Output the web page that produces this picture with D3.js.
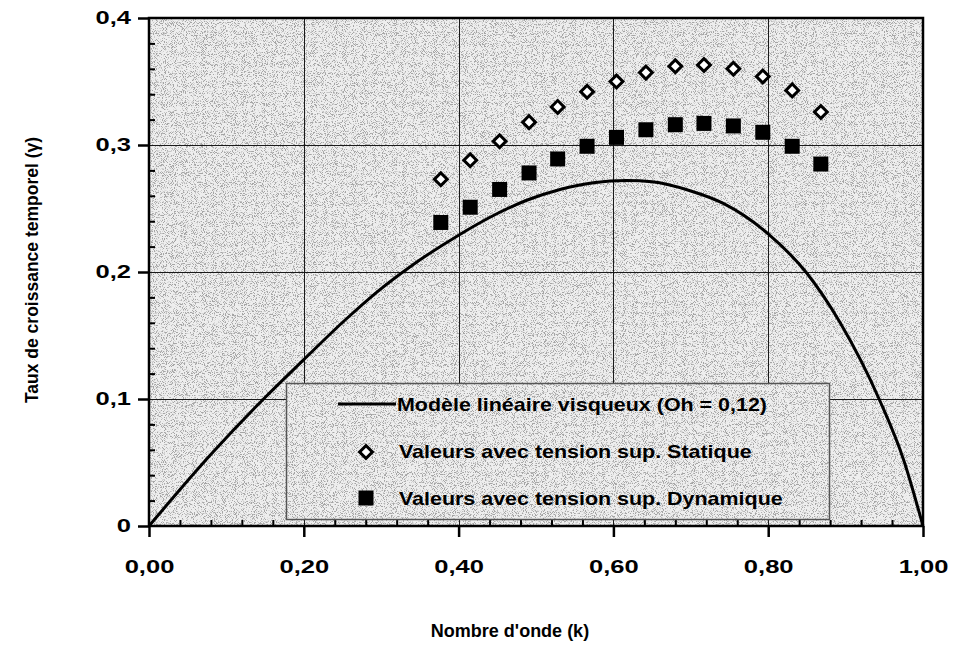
<!DOCTYPE html>
<html lang="fr">
<head>
<meta charset="utf-8">
<script src="https://cdn.jsdelivr.net/npm/d3@7"></script>
<style>
  html, body { margin: 0; padding: 0; background: #ffffff; }
  svg { display: block; font-family: "Liberation Sans", Arial, Helvetica, sans-serif; }
</style>
</head>
<body>
<svg id="chart" width="954" height="662"></svg>
<script>
// Nombre d'onde k des mesures
const waveNumbers = [0.377, 0.415, 0.453, 0.491, 0.528, 0.566, 0.604, 0.642, 0.680, 0.717, 0.755, 0.793, 0.831, 0.868];
// Taux de croissance, tension superficielle statique
const staticValues = [0.273, 0.288, 0.303, 0.318, 0.330, 0.342, 0.350, 0.357, 0.362, 0.363, 0.360, 0.354, 0.343, 0.326];
// Taux de croissance, tension superficielle dynamique
const dynamicValues = [0.239, 0.251, 0.265, 0.278, 0.289, 0.299, 0.306, 0.312, 0.316, 0.317, 0.315, 0.310, 0.299, 0.285];
// Modèle linéaire visqueux (Oh = 0,12)
const modelK     = [0, 0.081, 0.148, 0.200, 0.253, 0.296, 0.337, 0.400, 0.445, 0.488, 0.531, 0.574, 0.617, 0.650, 0.699, 0.742, 0.800, 0.850, 0.893, 0.944, 0.975, 1.0];
const modelGamma = [0, 0.057, 0.100, 0.131, 0.162, 0.185, 0.204, 0.229, 0.2445, 0.2565, 0.265, 0.2703, 0.272, 0.271, 0.264, 0.254, 0.230, 0.199, 0.160, 0.099, 0.052, 0];

const xTicks = [0, 0.2, 0.4, 0.6, 0.8, 1.0];
const xTickLabels = ["0,00", "0,20", "0,40", "0,60", "0,80", "1,00"];
const yTicks = [0, 0.1, 0.2, 0.3, 0.4];
const yTickLabels = ["0", "0,1", "0,2", "0,3", "0,4"];

const legendLabels = [
  "Modèle linéaire visqueux (Oh = 0,12)",
  "Valeurs avec tension sup. Statique",
  "Valeurs avec tension sup. Dynamique"
];

const svg = d3.select("#chart");
const plotLeft = 149, plotRight = 923, plotTop = 18, plotBottom = 526;
const tickStretch = 1.42;   // wide printer glyphs of the tick labels
const legendStretch = 1.16;

const x = d3.scaleLinear().domain([0, 1]).range([plotLeft, plotRight]);
const y = d3.scaleLinear().domain([0, 0.4]).range([plotBottom, plotTop]);

// grainy grey fill of the plotting area
const defs = svg.append("defs");
const grain = defs.append("filter").attr("id", "grain")
  .attr("x", 0).attr("y", 0).attr("width", 1).attr("height", 1);
grain.append("feTurbulence")
  .attr("type", "fractalNoise").attr("baseFrequency", 1.1)
  .attr("numOctaves", 1).attr("seed", 7).attr("result", "noise");
grain.append("feColorMatrix").attr("in", "noise").attr("type", "matrix")
  .attr("values", "0 0 0 0 0  0 0 0 0 0  0 0 0 0 0  9 0 0 0 -4.7");

function shadedBox(g, x0, y0, w, h) {
  g.append("rect").attr("x", x0).attr("y", y0).attr("width", w).attr("height", h)
    .attr("fill", "#eeeeee");
  g.append("rect").attr("x", x0).attr("y", y0).attr("width", w).attr("height", h)
    .attr("fill", "#000").attr("opacity", 0.3).attr("filter", "url(#grain)");
}

shadedBox(svg.append("g"), plotLeft, plotTop, plotRight - plotLeft, plotBottom - plotTop);

// grid
const grid = svg.append("g").attr("stroke", "#1a1a1a").attr("stroke-width", 1);
grid.selectAll("line.v").data(xTicks.slice(1, -1)).join("line")
  .attr("class", "v")
  .attr("x1", d => Math.round(x(d)) + 0.5).attr("x2", d => Math.round(x(d)) + 0.5)
  .attr("y1", plotTop).attr("y2", plotBottom);
grid.selectAll("line.h").data(yTicks.slice(1, -1)).join("line")
  .attr("class", "h")
  .attr("y1", d => Math.round(y(d)) + 0.5).attr("y2", d => Math.round(y(d)) + 0.5)
  .attr("x1", plotLeft).attr("x2", plotRight);

// frame
svg.append("rect")
  .attr("x", plotLeft).attr("y", plotTop)
  .attr("width", plotRight - plotLeft).attr("height", plotBottom - plotTop)
  .attr("fill", "none").attr("stroke", "#000").attr("stroke-width", 2.5);

// minor ticks (inside)
const xMinor = d3.range(0.04, 1.0, 0.04).filter(v => Math.abs(v / 0.2 - Math.round(v / 0.2)) > 1e-6);
const yMinor = d3.range(0.02, 0.4, 0.02).filter(v => Math.abs(v / 0.1 - Math.round(v / 0.1)) > 1e-6);

svg.append("g").attr("transform", `translate(0,${plotBottom})`)
  .call(d3.axisBottom(x).tickValues(xMinor).tickSize(-6).tickFormat(""))
  .call(g => g.select(".domain").remove())
  .call(g => g.selectAll("line").attr("stroke-width", 2));
svg.append("g").attr("transform", `translate(${plotLeft},0)`)
  .call(d3.axisLeft(y).tickValues(yMinor).tickSize(-6).tickFormat(""))
  .call(g => g.select(".domain").remove())
  .call(g => g.selectAll("line").attr("stroke-width", 2));

// major ticks and labels (outside)
svg.append("g").attr("transform", `translate(0,${plotBottom})`)
  .call(d3.axisBottom(x).tickValues(xTicks).tickSize(11).tickPadding(23)
    .tickFormat((d, i) => xTickLabels[i]))
  .call(g => g.select(".domain").remove())
  .call(g => g.selectAll("line").attr("stroke-width", 2.5))
  .call(g => g.selectAll("text").attr("font-size", 18).attr("font-weight", "bold")
    .attr("fill", "#000").attr("font-family", "Liberation Sans, Arial, sans-serif")
    .attr("transform", `scale(${tickStretch},1)`));
svg.append("g").attr("transform", `translate(${plotLeft},0)`)
  .call(d3.axisLeft(y).tickValues(yTicks).tickSize(11)
    .tickFormat((d, i) => yTickLabels[i]))
  .call(g => g.select(".domain").remove())
  .call(g => g.selectAll("line").attr("stroke-width", 2.5))
  .call(g => g.selectAll("text").attr("font-size", 18).attr("font-weight", "bold")
    .attr("fill", "#000").attr("font-family", "Liberation Sans, Arial, sans-serif")
    .attr("x", -18 / tickStretch)
    .attr("transform", `scale(${tickStretch},1)`));

// model curve
const modelPts = modelK.map((k, i) => [k, modelGamma[i]]);
svg.append("path")
  .datum(modelPts)
  .attr("fill", "none").attr("stroke", "#000").attr("stroke-width", 3)
  .attr("d", d3.line().x(d => x(d[0])).y(d => y(d[1])).curve(d3.curveMonotoneX));

// static surface tension: open diamonds
const diamond = d3.symbol().type(d3.symbolSquare).size(82)();
svg.append("g").selectAll("path").data(waveNumbers).join("path")
  .attr("d", diamond)
  .attr("transform", (k, i) => `translate(${x(k)},${y(staticValues[i])}) rotate(45)`)
  .attr("fill", "#fff").attr("stroke", "#000").attr("stroke-width", 3);

// dynamic surface tension: filled squares
const square = d3.symbol().type(d3.symbolSquare).size(225)();
svg.append("g").selectAll("path").data(waveNumbers).join("path")
  .attr("d", square)
  .attr("transform", (k, i) => `translate(${x(k)},${y(dynamicValues[i])})`)
  .attr("fill", "#000");

// legend
const lg = svg.append("g");
shadedBox(lg, 286.5, 383.5, 543, 136);
lg.append("rect")
  .attr("x", 286.5).attr("y", 383.5).attr("width", 543).attr("height", 136)
  .attr("fill", "none").attr("stroke", "#555").attr("stroke-width", 1.5);
lg.append("line")
  .attr("x1", 338).attr("x2", 396).attr("y1", 404).attr("y2", 404)
  .attr("stroke", "#000").attr("stroke-width", 3);
lg.append("path").attr("d", diamond)
  .attr("transform", "translate(366,452) rotate(45)")
  .attr("fill", "#fff").attr("stroke", "#000").attr("stroke-width", 3);
lg.append("path").attr("d", square)
  .attr("transform", "translate(366,498)")
  .attr("fill", "#000");
lg.selectAll("text").data(legendLabels).join("text")
  .attr("transform", (d, i) => `translate(${i === 0 ? 397 : 399},${[411, 458, 505][i]}) scale(${legendStretch},1)`)
  .attr("font-size", 18.5).attr("font-weight", "bold").attr("fill", "#000")
  .text(d => d);

// axis titles
svg.append("text")
  .attr("x", 510).attr("y", 637)
  .attr("text-anchor", "middle").attr("font-size", 18).attr("font-weight", "bold")
  .text("Nombre d'onde (k)");
svg.append("text")
  .attr("transform", "translate(38,270) rotate(-90)")
  .attr("text-anchor", "middle").attr("font-size", 17.5).attr("font-weight", "bold")
  .text("Taux de croissance temporel (γ)");
</script>
</body>
</html>
